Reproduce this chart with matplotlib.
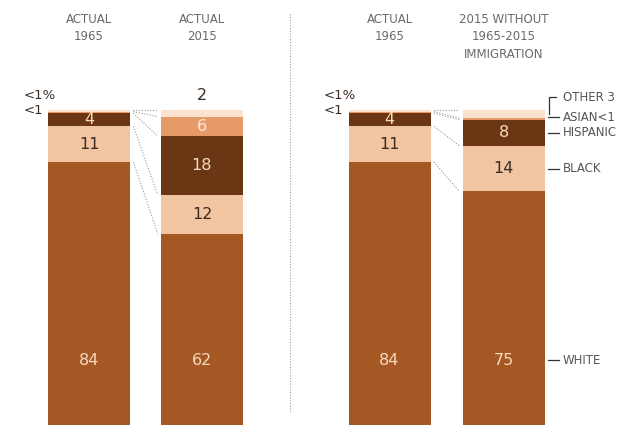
import matplotlib
matplotlib.use("Agg")
import matplotlib.pyplot as plt
import numpy as np

plt.rcParams['font.family'] = ['Liberation Sans Narrow', 'DejaVu Sans']

# shares in percent, bottom to top: white, black, hispanic, asian, other
groups = ['WHITE', 'BLACK', 'HISPANIC', 'ASIAN', 'OTHER']
actual_1965 = [84, 11, 4, 0.5, 0.5]
actual_2015 = [62, 12, 18, 6, 2]
no_immig_2015 = [75, 14, 8, 0.5, 2.5]

headers = ['ACTUAL\n1965', 'ACTUAL\n2015', 'ACTUAL\n1965', '2015 WITHOUT\n1965-2015\nIMMIGRATION']
series = [actual_1965, actual_2015, actual_1965, no_immig_2015]
# printed labels for each segment ('' = not printed inside)
seg_labels = [
    ['84', '11', '4', '', ''],
    ['62', '12', '18', '6', ''],
    ['84', '11', '4', '', ''],
    ['75', '14', '8', '', ''],
]
side_labels = ['WHITE', 'BLACK', 'HISPANIC', 'ASIAN<1', 'OTHER 3']

colors = ['#A65824', '#F1C4A2', '#6B3613', '#E59A68', '#FBE2CE']
text_on = ['#F7D9C0', '#3B2A20', '#F7D9C0', '#FBE8DA', '#3B2A20']

pos = [0, 1.0, 2.66, 3.67]
w = 0.726

fig = plt.figure(figsize=(6.2, 4.25), dpi=100)
ax = fig.add_axes([0, 0, 1, 1])
ax.set_xlim(-0.788, 4.70)
ax.set_ylim(3.08, 133.85)
ax.axis('off')

for x, vals, labs, head in zip(pos, series, seg_labels, headers):
    bottoms = np.concatenate([[0], np.cumsum(vals)[:-1]])
    ax.bar([x] * len(vals), vals, bottom=bottoms, width=w, color=colors, linewidth=0)
    for i, (v, b, lab) in enumerate(zip(vals, bottoms, labs)):
        if not lab:
            continue
        y = 23 if i == 0 else b + v / 2
        ax.text(x, y, lab, ha='center', va='center', fontsize=11.5, color=text_on[i])
    ax.text(x, 130.0, head, ha='center', va='top', fontsize=8.5, color='#6a6a6a',
            linespacing=1.45)

# dotted connectors between the bars of each panel
for a, b in [(0, 1), (2, 3)]:
    ca = np.cumsum(series[a])
    cb = np.cumsum(series[b])
    for ya, yb in zip(ca, cb):
        ax.plot([pos[a] + w / 2 + 0.03, pos[b] - w / 2 - 0.03], [ya, yb],
                ls=(0, (1, 1.5)), color='#9a9a9a', lw=0.8)

# small shares left of the 1965 bars
for x in [pos[0], pos[2]]:
    ax.text(x - w / 2 - 0.22, 104.6, '<1%', ha='left', va='center', fontsize=9.5, color='#3B2A20')
    ax.text(x - w / 2 - 0.22, 100.0, '<1', ha='left', va='center', fontsize=9.5, color='#3B2A20')

# other share above the 2015 bar
ax.text(pos[1], 104.5, str(actual_2015[4]), ha='center', va='center', fontsize=11.5,
        color='#3B2A20')

ax.axvline(1.78, ymin=0.03, ymax=0.97, ls=(0, (1, 1.5)), color='#a0a0a0', lw=0.8)

# labels for the right-hand bar
xr = pos[3] + w / 2
cum = np.cumsum(no_immig_2015)
bots = cum - np.array(no_immig_2015)
mids = bots + np.array(no_immig_2015) / 2
label_y = [23, mids[1], mids[2], 97.8, 104.0]
for i, (lab, ly) in enumerate(zip(side_labels, label_y)):
    if i == 4:
        ax.plot([xr + 0.04, xr + 0.04, xr + 0.10], [mids[4], ly, ly], color='#333333', lw=0.9)
    else:
        ax.plot([xr + 0.03, xr + 0.13], [ly, ly], color='#333333', lw=0.9)
    ax.text(xr + 0.16, ly, lab, ha='left', va='center', fontsize=8.5, color='#555555',
            clip_on=False)

fig.savefig('out.png', dpi=100)
